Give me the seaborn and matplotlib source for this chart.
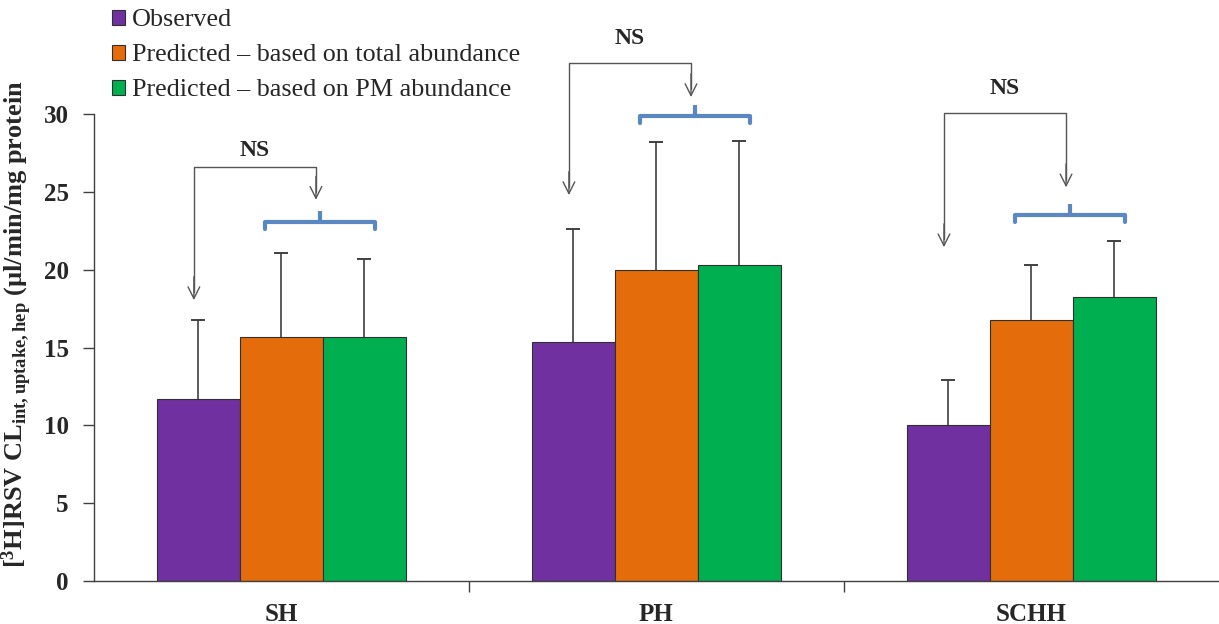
import numpy as np
import pandas as pd
import matplotlib
matplotlib.use("Agg")
import matplotlib.pyplot as plt
import seaborn as sns

# data
cells = ['SH', 'PH', 'SCHH']
series = ['Observed',
          'Predicted \u2013 based on total abundance',
          'Predicted \u2013 based on PM abundance']
observed = [11.7, 15.35, 10.05]
pred_total = [15.7, 20.0, 16.8]
pred_pm = [15.7, 20.3, 18.25]
err_observed = [5.1, 7.3, 2.85]
err_total = [5.35, 8.2, 3.5]
err_pm = [5.0, 7.95, 3.6]

colors = ['#7030a0', '#e46c0a', '#00b050']
brace_color = '#5b87c2'

# annotation heights per group: bracket top, left tip, right tip, brace, NS text
ann_top = [26.6, 33.3, 30.1]
ann_left_tip = [18.05, 24.8, 21.45]
ann_right_tip = [24.5, 31.1, 25.3]
ann_brace = [23.1, 29.9, 23.5]
ann_ns = [27.0, 34.2, 31.0]

df = pd.DataFrame({
    'cell': np.tile(cells, 3),
    'series': np.repeat(series, 3),
    'value': observed + pred_total + pred_pm,
    'err': err_observed + err_total + err_pm,
})

sns.set_theme(style="white")
plt.rcParams['font.family'] = ['Liberation Serif', 'DejaVu Serif']
plt.rcParams['mathtext.fontset'] = 'custom'
plt.rcParams['mathtext.rm'] = 'Liberation Serif'
plt.rcParams['mathtext.bf'] = 'Liberation Serif:bold'
plt.rcParams['mathtext.default'] = 'bf'

fig = plt.figure(figsize=(12.19, 6.24), dpi=100)
ax = fig.add_axes([0.077, 0.069, 0.923, 0.748])

sns.barplot(data=df, x='cell', y='value', hue='series', order=cells,
            hue_order=series, palette=colors, width=0.664, errorbar=None,
            edgecolor='#303030', linewidth=0.8, saturation=1, ax=ax)

# one-sided error bars (cap on top only)
centers = {}
for cont, s in zip(ax.containers, series):
    sub = df[df['series'] == s].set_index('cell').loc[cells]
    xs = np.array([b.get_x() + b.get_width() / 2 for b in cont])
    centers[s] = xs
    tops = sub['value'].values + sub['err'].values
    ax.vlines(xs, sub['value'].values, tops, color='#404040', lw=1.2, zorder=3)
    ax.scatter(xs, tops, marker='_', s=90, color='#404040', linewidths=1.4,
               zorder=3)

# NS brackets and braces
for i in range(3):
    xl = centers[series[0]][i] - 0.012
    xo = centers[series[1]][i]
    xg = centers[series[2]][i]
    b0, b1 = xo - 0.045, xg + 0.028
    xr = (b0 + b1) / 2 - 0.01
    ax.plot([xl, xl, xr, xr], [ann_left_tip[i] + 0.5, ann_top[i], ann_top[i],
            ann_right_tip[i] + 0.5], color='#555555', lw=1, clip_on=False)
    for x, tip in [(xl, ann_left_tip[i]), (xr, ann_right_tip[i])]:
        ax.annotate('', xy=(x, tip), xytext=(x, tip + 1.5),
                    arrowprops=dict(arrowstyle='->,head_length=0.7,head_width=0.35',
                                    color='#555555', lw=1, shrinkA=0, shrinkB=0),
                    annotation_clip=False)
    yb = ann_brace[i]
    ax.plot([b0, b0, b1, b1], [yb - 0.45, yb, yb, yb - 0.45], color=brace_color,
            lw=3, solid_joinstyle='round', solid_capstyle='round', clip_on=False)
    ax.plot([(b0 + b1) / 2] * 2, [yb, yb + 0.7], color=brace_color, lw=3,
            solid_capstyle='butt', clip_on=False)
    ax.text(xl + (xr - xl) * 0.5, ann_ns[i], 'NS', ha='center', va='bottom',
            fontsize=17, fontweight='bold', clip_on=False)

ax.set_ylim(0, 30)
ax.set_xlim(-0.5, 2.5)
ax.set_yticks(range(0, 31, 5))
ax.set_xticks([0, 1, 2])
ax.set_xticklabels(cells, fontsize=18, fontweight='bold')
ax.set_xticks([0.5, 1.5], minor=True)
ax.tick_params(axis='x', which='major', length=0, pad=16)
ax.tick_params(axis='x', which='minor', length=8, width=1, color='#404040',
               direction='out', bottom=True)
ax.tick_params(axis='y', length=8, width=1, color='#404040', direction='out',
               left=True, labelsize=18, pad=10)
for lab in ax.get_yticklabels():
    lab.set_fontweight('bold')
ax.set_xlabel('')
ax.set_ylabel(r'[$^{3}$H]RSV CL$_{int,uptake,hep}$ (µl/min/mg protein',
              fontsize=19, fontweight='bold')
ax.yaxis.set_label_coords(-0.053, 0.55)
for side in ['top', 'right']:
    ax.spines[side].set_visible(False)
for side in ['left', 'bottom']:
    ax.spines[side].set_color('#404040')
    ax.spines[side].set_linewidth(1)

ax.legend(loc='upper left', bbox_to_anchor=(0.092, 0.985),
          bbox_transform=fig.transFigure, frameon=False, fontsize=18.8,
          handlelength=0.5, handleheight=0.5, handletextpad=0.25,
          labelspacing=0.5, borderpad=0, borderaxespad=0)

plt.savefig('out.png', dpi=100)
